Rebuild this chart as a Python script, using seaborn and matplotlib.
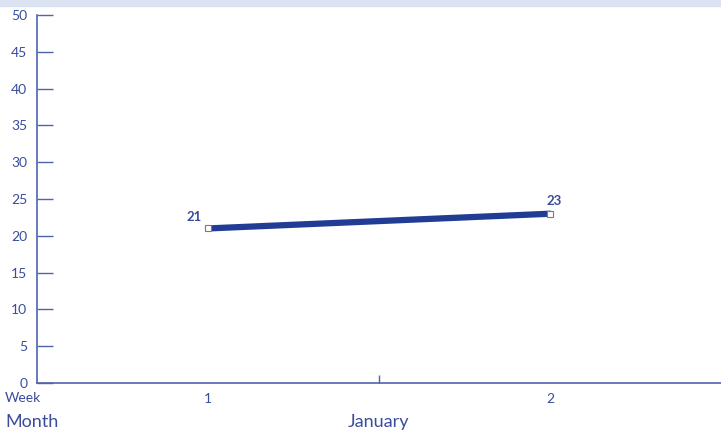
import numpy as np
import pandas as pd
import seaborn as sns
import matplotlib.pyplot as plt
from matplotlib.patches import Rectangle

# chart data
weeks = ['1', '2']
values = [21, 23]
month = 'January'
y_ticks = list(range(0, 55, 5))

TEXT = '#3a4c9c'
AXIS = '#4f64ad'
LINE = '#203c94'

sns.set_theme(style='white')
plt.rcParams['font.family'] = ['Lato', 'DejaVu Sans']

df = pd.DataFrame({'pos': np.arange(len(weeks)), 'value': values})

fig = plt.figure(figsize=(7.21, 4.32), dpi=100)
ax = fig.add_axes([37 / 721, 1 - 383 / 432, 1 - 37 / 721, (383 - 15) / 432])

# light band across the top of the figure
fig.patches.append(Rectangle((0, 1 - 6 / 432), 1, 6 / 432, transform=fig.transFigure,
                             color='#dbe2f1', zorder=0))

sns.lineplot(data=df, x='pos', y='value', ax=ax, color=LINE, linewidth=4.5,
             marker='s', markersize=5, markerfacecolor='white',
             markeredgecolor='#7a7a7a', markeredgewidth=0.8)

# value labels
label_offsets = [(-10, 4), (3, 5)]
for x, v, off in zip(df['pos'], values, label_offsets):
    ax.annotate(str(v), (x, v), xytext=off, textcoords='offset points',
                ha='center', va='bottom', color=TEXT, fontsize=9.5, fontweight='bold')

ax.set_xlim(-0.5, 1.5)
ax.set_ylim(0, 50)
ax.set_yticks(y_ticks)
ax.set_xticks(df['pos'])
ax.set_xticklabels(weeks)
ax.set_xticks([0.5], minor=True)
ax.tick_params(axis='y', direction='in', length=11.5, width=1, color=AXIS,
               labelcolor=TEXT, labelsize=10, pad=7, left=True)
ax.tick_params(axis='x', which='major', length=0, labelcolor=TEXT, labelsize=10, pad=7)
ax.tick_params(axis='x', which='minor', direction='in', length=6, width=1,
               color=AXIS, bottom=True)

for side in ['top', 'right']:
    ax.spines[side].set_visible(False)
for side in ['left', 'bottom']:
    ax.spines[side].set_color(AXIS)
    ax.spines[side].set_linewidth(1.2)

ax.set_xlabel('')
ax.set_ylabel('')

fig.text(5 / 721, 1 - 398 / 432, 'Week', ha='left', va='center', color=TEXT, fontsize=10)
fig.text(5 / 721, 1 - 422 / 432, 'Month', ha='left', va='center', color=TEXT, fontsize=13)
ax.text(0.5, -0.105, month, transform=ax.transAxes, ha='center', va='center',
        color=TEXT, fontsize=13)

fig.savefig('out.png', dpi=100)
